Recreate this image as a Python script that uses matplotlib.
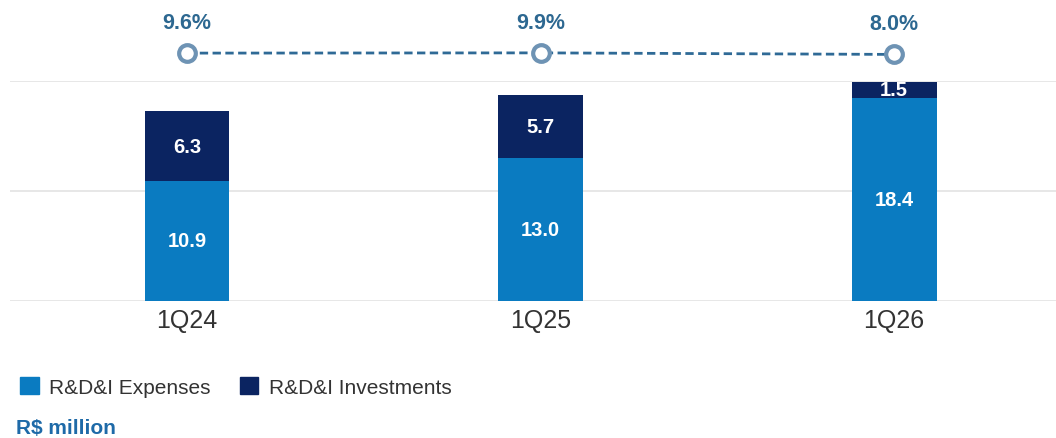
import matplotlib.pyplot as plt
from matplotlib.patches import Patch
import numpy as np

plt.rcParams['font.family'] = ['Liberation Sans', 'DejaVu Sans']

quarters = ['1Q24', '1Q25', '1Q26']
expenses = [10.9, 13.0, 18.4]
investments = [6.3, 5.7, 1.5]
share_pct = [9.6, 9.9, 8.0]

c_exp = '#0a7bc1'
c_inv = '#0b2461'
c_line = '#2f6a96'
c_ring = '#6e93b4'
c_text = '#2d6891'

W, H = 1056, 439
fig = plt.figure(figsize=(W / 100, H / 100), dpi=100)

# main stacked bar panel
left, right = 10 / W, 1.0
bot, top = 1 - 302 / H, 1 - 81.5 / H
ax = fig.add_axes([left, bot, right - left, top - bot])
x = np.arange(len(quarters))
ax.bar(x, expenses, width=0.24, color=c_exp, zorder=3)
ax.bar(x, investments, width=0.24, bottom=expenses, color=c_inv, zorder=3)

for i in range(len(x)):
    ax.text(x[i], expenses[i] / 2, f'{expenses[i]:.1f}', ha='center', va='center',
            color='white', fontsize=14.5, fontweight='bold', zorder=4)
    ax.text(x[i], expenses[i] + investments[i] / 2, f'{investments[i]:.1f}',
            ha='center', va='center', color='white', fontsize=14.5,
            fontweight='bold', zorder=4)

ax.set_xlim(-0.5007, 2.458)
ax.set_ylim(0, 20)
ax.set_yticks([0, 10, 20])
ax.yaxis.grid(True, color='#e3e3e3', linewidth=1.2, zorder=0)
ax.set_yticklabels([])
ax.tick_params(axis='y', length=0)
ax.set_xticks(x)
ax.set_xticklabels(quarters, fontsize=18, color='#333333')
ax.tick_params(axis='x', length=0, pad=5)
for s in ax.spines.values():
    s.set_visible(False)

# percentage line above the bars
ax2 = fig.add_axes([left, top, right - left, 1 - top])
ax2.plot(x, share_pct, linestyle=(0, (3.0, 1.6)), color=c_line, linewidth=2,
         marker='o', markersize=12, markerfacecolor='white',
         markeredgecolor=c_ring, markeredgewidth=3)
for i in range(len(x)):
    ax2.annotate(f'{share_pct[i]:.1f}%', (x[i], share_pct[i]), xytext=(0, 22),
                 textcoords='offset points', ha='center', va='center',
                 fontsize=15.5, fontweight='bold', color=c_text,
                 annotation_clip=False)
ax2.set_xlim(ax.get_xlim())
ax2.set_ylim(-24, 76)
ax2.axis('off')

handles = [Patch(color=c_exp, label='R&D&I Expenses'),
           Patch(color=c_inv, label='R&D&I Investments')]
fig.legend(handles=handles, loc='center left', bbox_to_anchor=(1 / W, 1 - 388 / H),
           ncol=2, frameon=False, fontsize=15, handlelength=0.9, handleheight=0.9,
           handletextpad=0.5, columnspacing=1.4, labelcolor='#333333')

fig.text(16 / W, 1 - 429 / H, 'R$ million', fontsize=15, fontweight='bold',
         color='#1e6aa8', ha='left', va='center')

fig.savefig('out.png', dpi=100)
